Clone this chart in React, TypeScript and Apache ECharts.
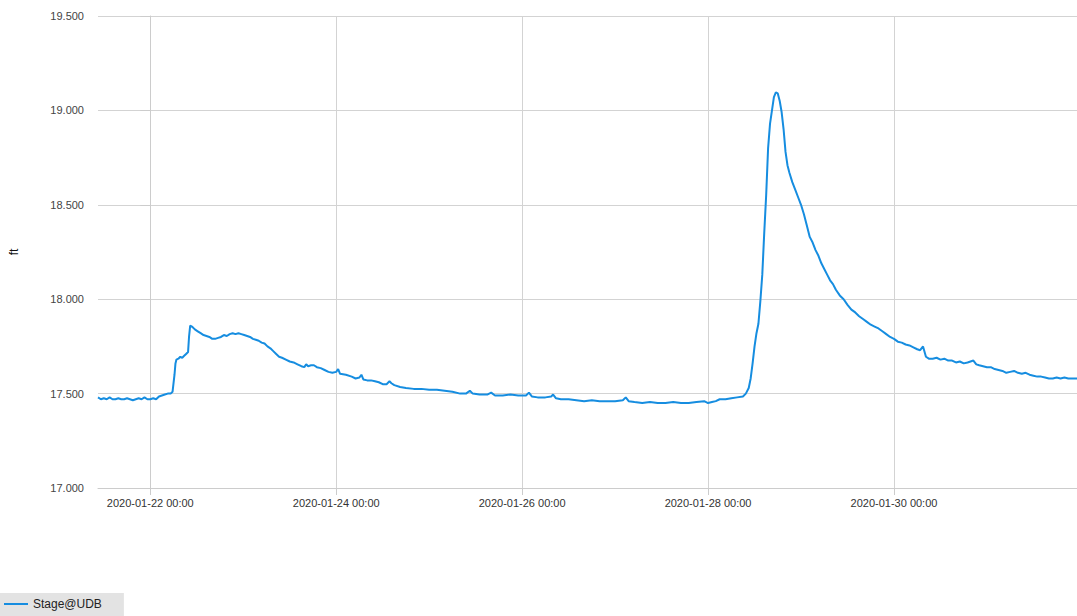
import React, { useEffect, useRef } from "react";
import * as echarts from "echarts";

// Hours since 2020-01-22 00:00 and stage readings (ft)
const hours: number[] = [
  -13.5, -12.75, -12, -11.25, -10.5, -9.75, -9, -8.25, -7.5, -6.75, -6, -5.25, -4.5, -3.75, -3, -2.25, -1.5, -0.75,
  0, 0.75, 1.5, 2.25, 3, 3.75, 4.5, 5.25, 5.75, 6.25, 6.5, 6.75, 7.25, 7.75, 8.25, 8.75, 9.25, 9.75,
  10.0, 10.3, 10.75, 11.5, 12.25, 13, 13.75, 14.5, 15.25, 16, 16.75, 17.5, 18.25, 19, 19.75, 20.5, 21.25, 22, 22.75, 23.5,
  24.25, 25, 25.75, 26.5, 27.25, 28, 28.75, 29.5, 30.25, 31, 31.75, 32.5, 33.25, 34, 35, 36, 37, 38, 39, 39.75, 40.25,
  40.75, 41.5, 42.25, 43, 44, 45, 46, 47, 48, 48.5, 49, 50.5, 52, 53, 54, 54.5, 55, 56, 57, 58, 59, 60, 61, 61.75,
  62.25, 63, 64.5, 66, 68, 70, 72, 74, 76, 78, 80, 81.5, 82.5, 83.25, 85, 87, 88, 89, 91, 93, 95, 97, 97.75, 98.5,
  100, 102, 103.5, 104, 104.75, 106, 108, 110, 112, 114, 116, 118, 120, 122, 122.75, 123.5, 125, 127, 129, 131, 133,
  135, 137, 139, 141, 143, 144, 145, 146, 147, 148.5, 150, 151.5, 153, 153.75, 154.5, 155, 155.5, 156, 156.5, 157,
  157.5, 158, 158.5, 159, 159.5, 160, 160.5, 161, 161.5, 162, 162.5, 163, 163.5, 164, 164.5, 165, 165.75, 166.5,
  167.25, 168, 168.75, 169.5, 170.25, 171, 171.75, 172.5, 173.25, 174, 174.75, 175.5, 176.25, 177, 178, 179, 180,
  181, 182, 183, 184, 185, 186, 187, 188, 189, 190, 191, 192, 193, 194, 195, 196, 197, 198, 198.75, 199.5, 200.25,
  201, 202, 203, 204, 205, 206, 207, 208, 209, 210, 211, 212.5, 213.25, 214, 215, 216, 217, 218, 219, 220, 221, 222,
  223, 224, 225, 226, 227, 228, 229, 230, 231, 232, 233, 234, 235, 236, 237, 238, 239.25,
];

const stage: number[] = [
  17.48, 17.47, 17.475, 17.47, 17.48, 17.47, 17.47, 17.475, 17.47, 17.47, 17.475, 17.47, 17.465, 17.47, 17.475, 17.47, 17.48, 17.47,
  17.47, 17.475, 17.47, 17.485, 17.49, 17.495, 17.5, 17.5, 17.51, 17.6, 17.66, 17.68, 17.685, 17.695, 17.69, 17.7, 17.71, 17.72,
  17.8, 17.86, 17.855, 17.84, 17.83, 17.82, 17.81, 17.805, 17.8, 17.79, 17.79, 17.795, 17.8, 17.81, 17.805, 17.815, 17.82, 17.815, 17.82, 17.815,
  17.81, 17.805, 17.8, 17.79, 17.785, 17.78, 17.77, 17.765, 17.75, 17.74, 17.725, 17.71, 17.695, 17.69, 17.68, 17.67, 17.665, 17.655, 17.645, 17.64, 17.655,
  17.645, 17.65, 17.65, 17.64, 17.635, 17.625, 17.615, 17.61, 17.615, 17.63, 17.605, 17.6, 17.59, 17.58, 17.585, 17.6, 17.575, 17.57, 17.57, 17.565, 17.56, 17.55, 17.55, 17.565,
  17.555, 17.545, 17.535, 17.53, 17.525, 17.525, 17.52, 17.52, 17.515, 17.51, 17.5, 17.5, 17.515, 17.5, 17.495, 17.495, 17.505, 17.49, 17.49, 17.495, 17.49, 17.49, 17.505, 17.485,
  17.48, 17.48, 17.485, 17.495, 17.475, 17.47, 17.47, 17.465, 17.46, 17.465, 17.46, 17.46, 17.46, 17.465, 17.48, 17.46, 17.455, 17.45, 17.455, 17.45, 17.45,
  17.455, 17.45, 17.45, 17.455, 17.46, 17.45, 17.455, 17.46, 17.47, 17.47, 17.475, 17.48, 17.485, 17.5, 17.53, 17.58, 17.66, 17.75, 17.82, 17.87,
  17.99, 18.13, 18.35, 18.55, 18.8, 18.93, 19.0, 19.07, 19.095, 19.09, 19.05, 18.99, 18.9, 18.78, 18.71, 18.67, 18.62, 18.58,
  18.54, 18.5, 18.45, 18.39, 18.33, 18.3, 18.26, 18.23, 18.19, 18.16, 18.13, 18.1, 18.08, 18.05, 18.02, 18.0, 17.97,
  17.945, 17.93, 17.91, 17.895, 17.88, 17.865, 17.855, 17.845, 17.83, 17.815, 17.8, 17.79, 17.775, 17.77, 17.76, 17.755, 17.745, 17.735, 17.73, 17.75, 17.695,
  17.685, 17.685, 17.69, 17.68, 17.685, 17.675, 17.675, 17.665, 17.67, 17.66, 17.665, 17.675, 17.655, 17.65, 17.645, 17.64, 17.64, 17.63, 17.625, 17.62, 17.61, 17.615,
  17.62, 17.61, 17.605, 17.61, 17.6, 17.595, 17.59, 17.59, 17.585, 17.58, 17.58, 17.585, 17.58, 17.585, 17.58, 17.58, 17.58,
];

const xTickHours: number[] = [0, 48, 96, 144, 192];
const yTicks: number[] = [17.0, 17.5, 18.0, 18.5, 19.0, 19.5];
const seriesName = "Stage@UDB";
const yAxisName = "ft";
const originUTC = Date.UTC(2020, 0, 22, 0, 0);

const pad = (n: number) => (n < 10 ? "0" + n : "" + n);
const fmtHour = (h: number) => {
  const d = new Date(originUTC + h * 3600000);
  return `${d.getUTCFullYear()}-${pad(d.getUTCMonth() + 1)}-${pad(d.getUTCDate())} ${pad(d.getUTCHours())}:${pad(d.getUTCMinutes())}`;
};

export default function App() {
  const ref = useRef<HTMLDivElement>(null);
  useEffect(() => {
    if (!ref.current) return;
    const chart = echarts.init(ref.current, undefined, { renderer: "svg" });
    const data = hours.map((h, i) => [h, stage[i]]);
    chart.setOption({
      animation: false,
      textStyle: { fontFamily: "'Liberation Sans', Arial, sans-serif" },
      grid: { left: 98, right: 0, top: 16, bottom: 128, containLabel: false },
      legend: {
        left: 0,
        top: 593,
        padding: [5, 22, 6, 4],
        backgroundColor: "#e3e3e3",
        icon: "rect",
        itemWidth: 24,
        itemHeight: 2,
        itemGap: 10,
        textStyle: { fontSize: 12, color: "#222" },
        data: [seriesName],
      },
      xAxis: {
        type: "value",
        min: hours[0],
        max: hours[hours.length - 1],
        interval: 48,
        axisLine: { show: true, lineStyle: { color: "#cccccc" } },
        axisTick: { show: true, length: 7, lineStyle: { color: "#cccccc" }, customValues: xTickHours },
        axisLabel: {
          color: "#333",
          fontSize: 11,
          margin: 9,
          customValues: xTickHours,
          formatter: (v: number) => fmtHour(v),
        },
        splitLine: { show: true, lineStyle: { color: "#d3d3d3" } },
      },
      yAxis: {
        type: "value",
        min: yTicks[0],
        max: yTicks[yTicks.length - 1],
        interval: 0.5,
        name: yAxisName,
        nameLocation: "middle",
        nameGap: 78,
        nameTextStyle: { color: "#111", fontSize: 12 },
        axisLine: { show: true, lineStyle: { color: "#cccccc" } },
        axisTick: { show: true, length: 10, lineStyle: { color: "#cccccc" } },
        axisLabel: {
          color: "#444",
          fontSize: 11,
          margin: 14,
          formatter: (v: number) => v.toFixed(3),
        },
        splitLine: { show: true, lineStyle: { color: "#d3d3d3" } },
      },
      series: [
        {
          name: seriesName,
          type: "line",
          data,
          showSymbol: false,
          symbol: "none",
          lineStyle: { color: "#168de0", width: 2 },
          itemStyle: { color: "#168de0" },
        },
      ],
    });
    return () => chart.dispose();
  }, []);
  return (
    <div
      ref={ref}
      style={{ position: "fixed", left: 0, top: 0, width: 1077, height: 616, background: "#fff" }}
    />
  );
}
